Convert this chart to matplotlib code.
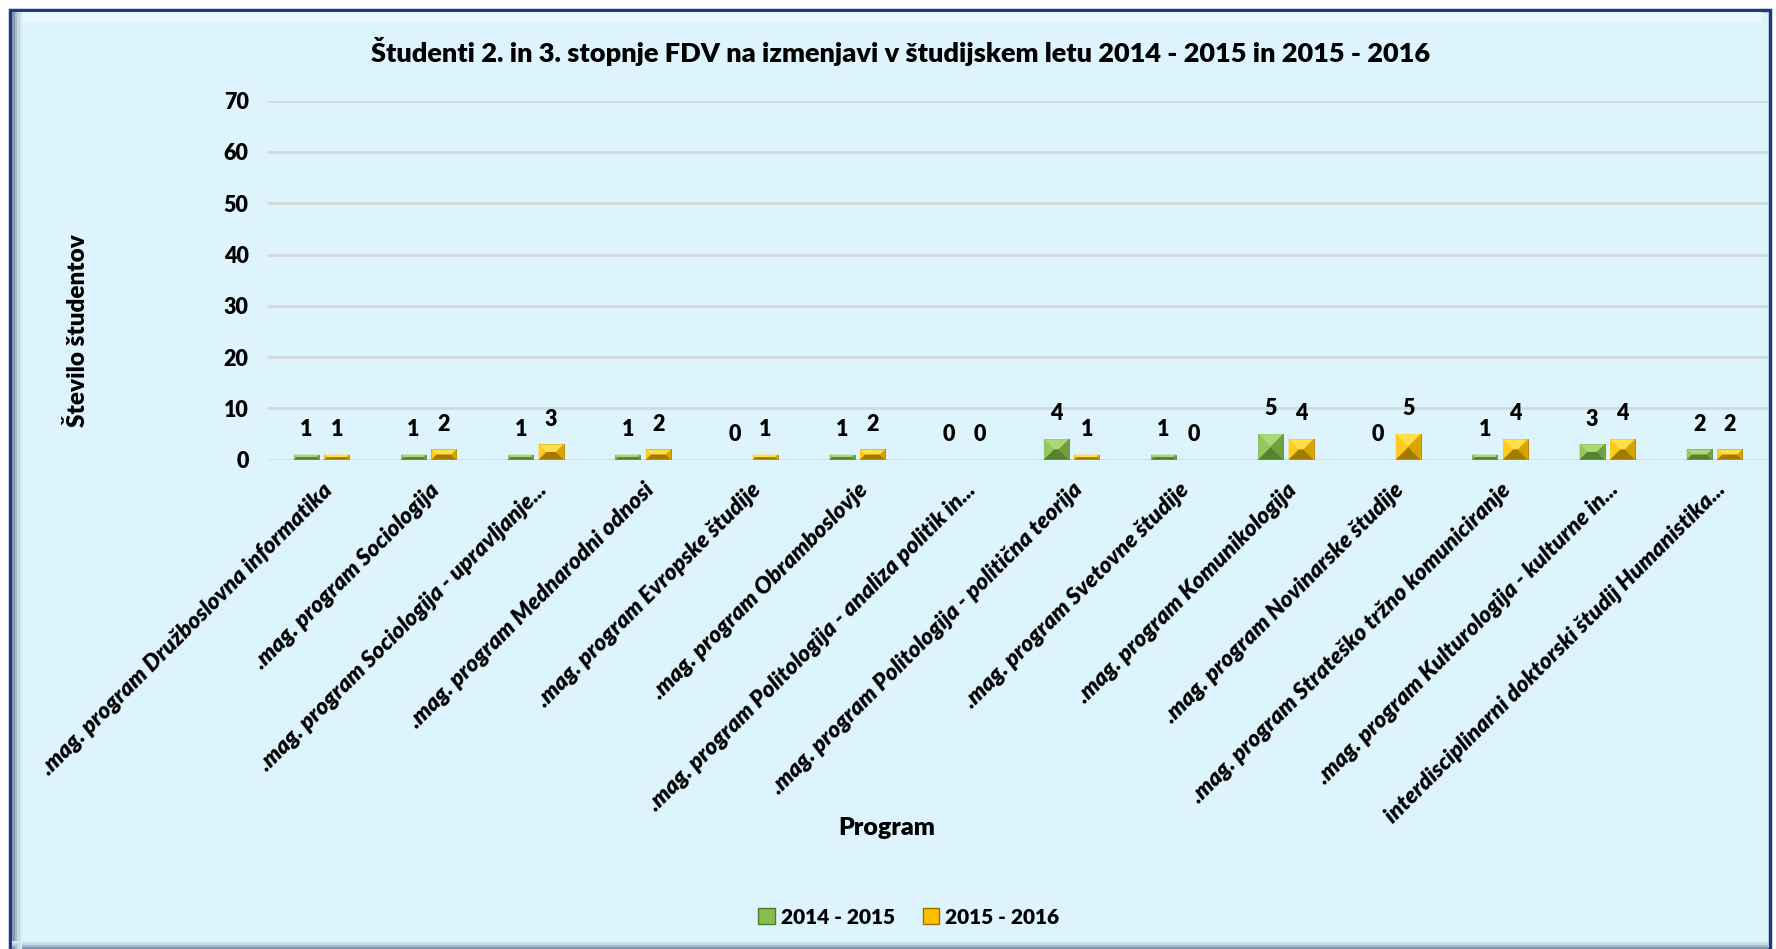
import numpy as np
import matplotlib
matplotlib.use('Agg')
import matplotlib.pyplot as plt
from matplotlib.patches import Rectangle, Polygon, Patch

plt.rcParams['font.family'] = ['Lato', 'DejaVu Sans']

# Podatki
programi = [
    '.mag. program Družboslovna informatika',
    '.mag. program Sociologija',
    '.mag. program Sociologija - upravljanje...',
    '.mag. program Mednarodni odnosi',
    '.mag. program Evropske študije',
    '.mag. program Obramboslovje',
    '.mag. program Politologija - analiza politik in...',
    '.mag. program Politologija - politična teorija',
    '.mag. program Svetovne študije',
    '.mag. program Komunikologija',
    '.mag. program Novinarske študije',
    '.mag. program Strateško tržno komuniciranje',
    '.mag. program Kulturologija - kulturne in...',
    'interdisciplinarni doktorski študij Humanistika...',
]
leto_2014_2015 = [1, 1, 1, 1, 0, 1, 0, 4, 1, 5, 0, 1, 3, 2]
leto_2015_2016 = [1, 2, 3, 2, 1, 2, 0, 1, 0, 4, 5, 4, 4, 2]
serije = ['2014 - 2015', '2015 - 2016']
y_ticks = [0, 10, 20, 30, 40, 50, 60, 70]

W, H = 1776, 949
fig = plt.figure(figsize=(W / 100, H / 100), dpi=100)
fig.patch.set_facecolor('white')


def fx(x):
    return x / W


def fy(y):
    return 1 - y / H


# ozadje grafikona z robom
bg = '#DDF4FD'
fig.patches.append(Rectangle((fx(10), fy(949)), fx(1760), 939 / H, transform=fig.transFigure,
                             facecolor=bg, edgecolor='#1F3A78', lw=2.5, zorder=-3))
# poudarki (bevel)
for i, c in enumerate(['#7F98B0', '#A6BCCC', '#C4D8E4', '#D4EAF3']):
    fig.patches.append(Rectangle((fx(12 + i * 2.5), fy(949)), fx(2.5), 937 / H,
                                 transform=fig.transFigure, facecolor=c, lw=0, zorder=-2))
    fig.patches.append(Rectangle((fx(12), fy(949 - i * 2)), fx(1756), 2 / H,
                                 transform=fig.transFigure, facecolor=c, lw=0, zorder=-2))
fig.patches.append(Rectangle((fx(22), fy(22)), fx(1740), 10 / H, transform=fig.transFigure,
                             facecolor='#E9F8FE', lw=0, zorder=-2))

ax = fig.add_axes([fx(268), fy(459.7), fx(1500), (459.7 - 100.7) / H])
ax.set_facecolor('none')

x = np.arange(len(programi))
w = 0.233
b1 = ax.bar(x - 0.142, leto_2014_2015, w, color='#86BD4E', edgecolor='#5A8A30', lw=0.6, zorder=3)
b2 = ax.bar(x + 0.142, leto_2015_2016, w, color='#FFC000', edgecolor='#A87E00', lw=0.6, zorder=3)

ax.set_xlim(-0.5, len(programi) - 0.5)
ax.set_ylim(0, 70)
ax.set_yticks(y_ticks)
ax.yaxis.grid(True, color='#D6D9DB', lw=2)
ax.set_axisbelow(True)
for s in ax.spines.values():
    s.set_visible(False)
ax.tick_params(length=0)
ax.tick_params(axis='y', pad=14, labelsize=15.5)
for t in ax.get_yticklabels():
    t.set_fontweight('heavy')

ax.set_xticks(x)
ax.set_xticklabels(programi, rotation=45, ha='right', va='top', rotation_mode='anchor',
                   fontsize=16.5, fontweight='heavy', fontstyle='italic')
ax.tick_params(axis='x', pad=14)
for t in ax.get_xticklabels():
    t.set_x(t.get_position()[0] - 0.12)

# piramidni učinek na stolpcih
fig.canvas.draw()
inv = ax.transData.inverted()
facete = {
    '#86BD4E': ['#AAD877', '#93C85C', '#729F42', '#55822F'],
    '#FFC000': ['#FFE04A', '#FFCB1F', '#D9A400', '#A27A00'],
}
for bars, col in [(b1, '#86BD4E'), (b2, '#FFC000')]:
    top, left, right, bot = facete[col]
    for r in bars:
        if r.get_height() <= 0:
            continue
        (x0, y0) = ax.transData.transform((r.get_x(), 0))
        (x1, y1) = ax.transData.transform((r.get_x() + r.get_width(), r.get_height()))
        d = min(x1 - x0, y1 - y0) / 2
        xc0, xc1 = x0 + d, x1 - d
        yc0, yc1 = y0 + d, y1 - d
        polys = [
            ([(x0, y1), (x1, y1), (xc1, yc1), (xc0, yc1)], top),
            ([(x0, y0), (x0, y1), (xc0, yc1), (xc0, yc0)], left),
            ([(x1, y0), (x1, y1), (xc1, yc1), (xc1, yc0)], right),
            ([(x0, y0), (x1, y0), (xc1, yc0), (xc0, yc0)], bot),
        ]
        for pts, c in polys:
            ax.add_patch(Polygon(inv.transform(pts), closed=True, facecolor=c, lw=0, zorder=4))

# oznake vrednosti
for bars, vals in [(b1, leto_2014_2015), (b2, leto_2015_2016)]:
    for r, v in zip(bars, vals):
        ax.annotate(str(v), (r.get_x() + r.get_width() / 2, v), xytext=(0, 13.5),
                    textcoords='offset points', ha='center', va='baseline',
                    fontsize=15.5, fontweight='heavy', zorder=5)

fig.text(fx(901), fy(51), 'Študenti 2. in 3. stopnje FDV na izmenjavi v študijskem letu 2014 - 2015 in 2015 - 2016',
         ha='center', va='center', fontsize=19.5, fontweight='heavy')
fig.text(fx(77), fy(331), 'Število študentov', rotation=90, ha='center', va='center',
         fontsize=17.5, fontweight='heavy')
fig.text(fx(887), fy(828), 'Program', ha='center', va='center', fontsize=18, fontweight='heavy')

handles = [Patch(facecolor='#86BD4E', edgecolor='#4F7C2A', label=serije[0]),
           Patch(facecolor='#FFC000', edgecolor='#9A7200', label=serije[1])]
leg = fig.legend(handles=handles, loc='center', bbox_to_anchor=(fx(909), fy(917)), ncol=2,
                 frameon=False, handlelength=0.8, handleheight=0.8, handletextpad=0.3,
                 columnspacing=1.3, prop={'weight': 'heavy', 'size': 15})

fig.savefig('out.png', dpi=100, facecolor='white')
